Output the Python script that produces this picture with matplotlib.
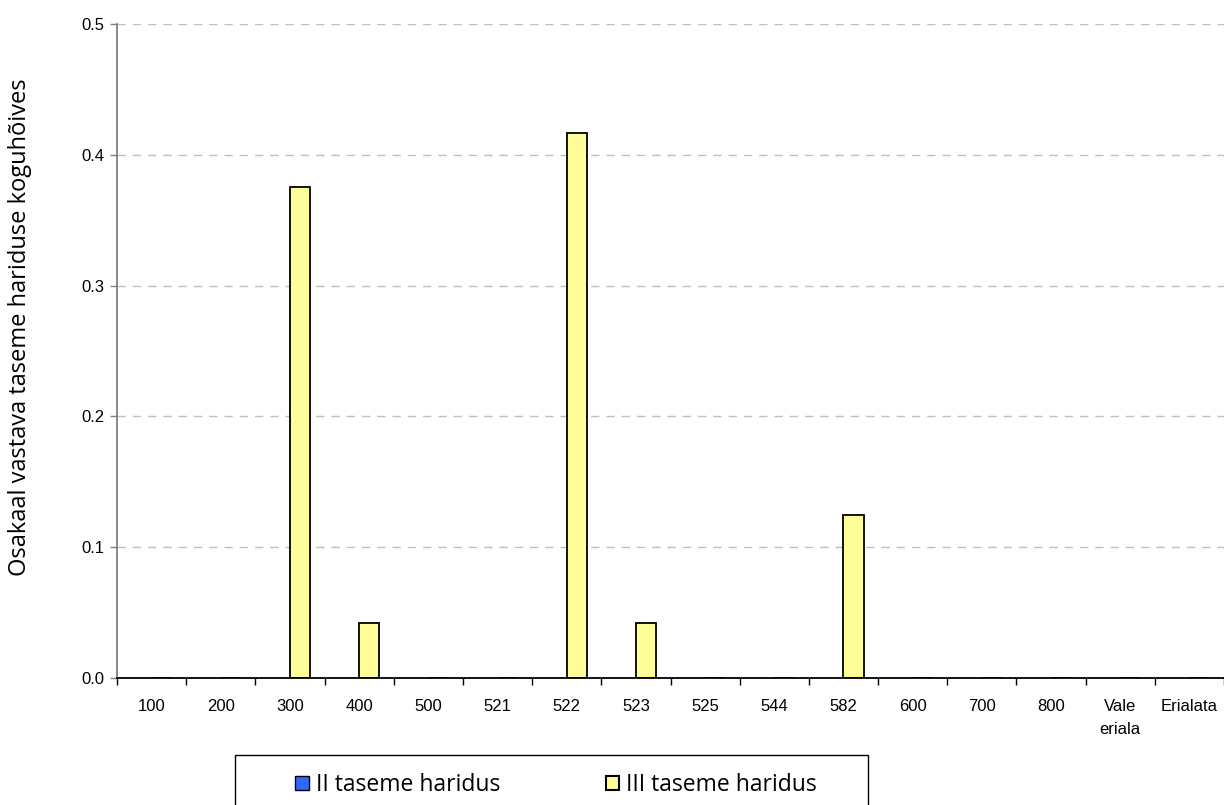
import matplotlib
matplotlib.use("Agg")
import matplotlib.pyplot as plt
import numpy as np
from matplotlib.patches import Patch, Rectangle

categories = ["100", "200", "300", "400", "500", "521", "522", "523", "525",
              "544", "582", "600", "700", "800", "Vale\neriala", "Erialata"]
tase2 = [0, 0, 0, 0, 0, 0, 0, 0, 0, 0, 0, 0, 0, 0, 0, 0]
tase3 = [0, 0, 0.375, 0.0417, 0, 0, 0.4167, 0.0417, 0, 0, 0.125, 0, 0, 0, 0, 0]
series_names = ["II taseme haridus", "III taseme haridus"]

fig = plt.figure(figsize=(12.24, 8.05), dpi=100)
ax = fig.add_axes([117 / 1224, 1 - 678 / 805, 1107 / 1224, 654 / 805])

x = np.arange(len(categories))
w = 0.29
ax.bar(x - w / 2, tase2, w, color="#3366ff", edgecolor="black", linewidth=0)
ax.bar(x + w / 2, tase3, w, color="#ffff99", edgecolor="black", linewidth=1.3)

ax.set_xlim(-0.5, len(categories) - 0.5)
ax.set_ylim(0, 0.5)
ax.set_yticks(np.arange(0, 0.51, 0.1))
ax.set_yticklabels(["%.1f" % v for v in np.arange(0, 0.51, 0.1)], fontsize=12,
                   family="Liberation Sans")
ax.yaxis.grid(True, linestyle=(0, (6, 5)), color="#c0c0c0", linewidth=1)
ax.set_axisbelow(True)

ax.set_xticks(np.arange(-0.5, len(categories), 1))
ax.set_xticklabels([])
ax.set_xticks(x, minor=True)
ax.set_xticklabels(categories, minor=True, fontsize=12, family="Liberation Sans",
                   va="top", linespacing=1.7)
ax.tick_params(axis="x", which="minor", length=0, pad=15)
ax.tick_params(axis="x", which="major", length=5, width=1, direction="out", color="black")
ax.tick_params(axis="y", length=5, width=1, color="#808080", pad=4)

for s in ["top", "right"]:
    ax.spines[s].set_visible(False)
ax.spines["left"].set_color("#808080")
ax.spines["left"].set_linewidth(1.3)
ax.spines["bottom"].set_color("black")
ax.spines["bottom"].set_linewidth(1.3)

ax.set_ylabel("Osakaal vastava taseme hariduse koguhõives", fontsize=17,
              family="Open Sans", va="center", ha="center")
ax.yaxis.set_label_coords(-97 / 1107, 0.5 + 24 / 654)

# legend box
fig.patches.append(Rectangle((235 / 1224, -0.05), 633 / 1224, 0.05 + 1 - 755 / 805,
                             transform=fig.transFigure, fill=False,
                             edgecolor="black", linewidth=1))
handles = [Patch(facecolor="#3366ff", edgecolor="black", hatch="x"),
           Patch(facecolor="#ffff99", edgecolor="black", linewidth=1.5)]
fig.legend(handles, series_names, loc="center", bbox_to_anchor=(556 / 1224, 1 - 785 / 805),
           ncol=2, frameon=False, prop={"family": "Open Sans", "size": 16.5},
           handlelength=0.6, handleheight=0.6, handletextpad=0.3, columnspacing=4.6)

fig.savefig("out.png", dpi=100)
